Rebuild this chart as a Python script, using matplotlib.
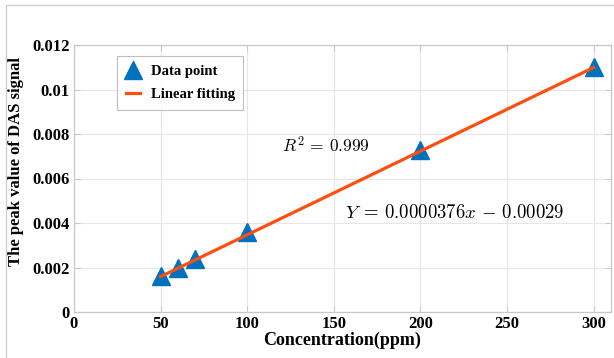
import matplotlib
matplotlib.use("Agg")
import matplotlib.pyplot as plt
from matplotlib.patches import Rectangle

# Measured peak DAS signal vs. gas concentration
concentration = [50, 60, 70, 100, 200, 300]
peak_signal = [0.0016, 0.0020, 0.0024, 0.0036, 0.0073, 0.0110]

# Linear fit parameters
slope = 0.0000376
intercept = -0.00029
fit_x = [50, 300]

x_ticks = [0, 50, 100, 150, 200, 250, 300]
y_ticks = [0, 0.002, 0.004, 0.006, 0.008, 0.010, 0.012]
y_tick_labels = ["0", "0.002", "0.004", "0.006", "0.008", "0.01", "0.012"]

plt.rcParams["mathtext.fontset"] = "cm"
serif = "Liberation Serif"

W, H = 614, 358
fig = plt.figure(figsize=(W / 100, H / 100), dpi=100)
ax = fig.add_axes([74 / W, 1 - 312 / H, (611 - 74) / W, (312 - 45) / H])

# outer frame of the figure panel
fig.patches.append(Rectangle((6 / W, -0.05), 1.2, 1 - 5 / H + 0.05,
                             transform=fig.transFigure, fill=False,
                             edgecolor="#d0d0d0", linewidth=1.0))

fit_y = [slope * x + intercept for x in fit_x]
ax.plot(concentration, peak_signal, linestyle="none", marker="^",
        markersize=12.5, color="#0072BD", label="Data point", zorder=3)
ax.plot(fit_x, fit_y, color="#FF4F10", linewidth=2.3,
        label="Linear fitting", zorder=4)

ax.set_xlim(0, 310)
ax.set_ylim(0, 0.012)
ax.set_xticks(x_ticks)
ax.set_xticklabels([str(v) for v in x_ticks])
ax.set_yticks(y_ticks)
ax.set_yticklabels(y_tick_labels)
ax.grid(True, color="#e6e6e6", linewidth=0.8)
ax.set_axisbelow(True)
for s in ax.spines.values():
    s.set_color("#c8c8c8")
    s.set_linewidth(0.9)
ax.tick_params(direction="in", length=4, color="#c8c8c8", top=True, right=True,
               labeltop=False, labelright=False, pad=3)
for lab in ax.get_xticklabels() + ax.get_yticklabels():
    lab.set_fontfamily(serif)
    lab.set_fontweight("bold")
    lab.set_fontsize(12)

ax.set_xlabel("Concentration(ppm)", fontfamily=serif, fontweight="bold",
              fontsize=13, labelpad=0)
ax.set_ylabel("The peak value of DAS signal", fontfamily=serif,
              fontweight="bold", fontsize=12)
ax.yaxis.set_label_coords(-(74 - 24) / (611 - 74), (312 - 162) / 267)

leg = ax.legend(loc="upper left", bbox_to_anchor=(0.080, 0.959),
                borderaxespad=0,
                prop={"family": serif, "weight": "bold", "size": 10.5},
                frameon=True, fancybox=False, edgecolor="#b0b0b0",
                handlelength=1.0, handletextpad=0.7, borderpad=0.6,
                labelspacing=0.7, markerscale=1.0)
leg.get_frame().set_linewidth(0.8)

fig.text(326 / W, 1 - 146 / H, r"$R^2\,=\,0.999$", fontsize=12.5,
         ha="center", va="center")
fig.text(455 / W, 1 - 213 / H, r"$Y\;=\,0.0000376x\,-\,0.00029$",
         fontsize=13.5, ha="center", va="center")

fig.savefig("out.png", dpi=100)
